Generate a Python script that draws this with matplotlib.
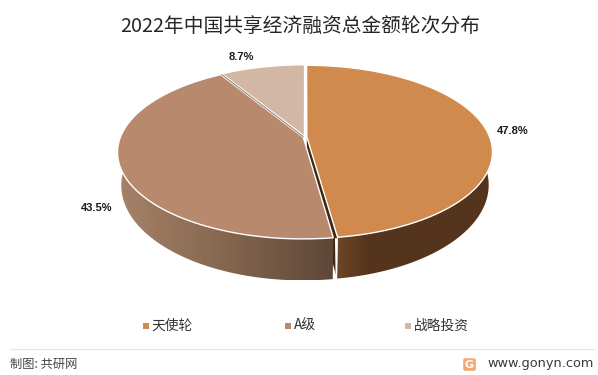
import numpy as np
import matplotlib
matplotlib.use("Agg")
import matplotlib.pyplot as plt
from matplotlib.patches import Polygon, FancyBboxPatch
from matplotlib.colors import LinearSegmentedColormap

plt.rcParams['font.family'] = ['Noto Sans CJK SC', 'DejaVu Sans']

title = "2022年中国共享经济融资总金额轮次分布"
categories = ["天使轮", "A级", "战略投资"]
values = [47.8, 43.5, 8.7]
labels = ["47.8%", "43.5%", "8.7%"]
top_colors = ["#D08A4E", "#B8896C", "#D3B7A5"]
side_colors = [["#6E4527", "#54341C", "#54341D"], ["#A58168", "#84664F", "#5E4737"]]
source = "制图: 共研网"
site = "www.gonyn.com"

W, H = 598, 375
fig = plt.figure(figsize=(W / 100, H / 100), dpi=100, facecolor="white")
ax = fig.add_axes([0, 0, 1, 1])

# perspective disc projection
K = 0.1724
CX, CY, A, B = 305.0, 137.0, 182.8, 84.0
CYB, SXB, SYB = 168.5, 0.98, 1.098
EXPL = 0.010


def project(u, v, bottom=False):
    w = 1 + K * np.asarray(v)
    sx, sy, cy = (SXB, SYB, CYB) if bottom else (1.0, 1.0, CY)
    return CX + sx * A * np.asarray(u) / w, cy - sy * B * np.asarray(v) / w


fracs = np.array(values) / sum(values) * 2 * np.pi
ends = np.cumsum(fracs)
starts = ends - fracs
geom = []
for s, e in zip(starts, ends):
    mid = (s + e) / 2
    off = (EXPL * np.sin(mid), EXPL * np.cos(mid))
    geom.append((np.linspace(s, e, 200), off))


def rim(th, off, bottom=False):
    return project(np.sin(th) + off[0], np.cos(th) + off[1], bottom)


def draw_sides(i, z):
    th, off = geom[i]
    keep = np.cos(th) < 0.25
    xt, yt = rim(th[keep], off)
    xb, yb = rim(th[keep], off, True)
    pts = np.column_stack([np.r_[xt, xb[::-1]], np.r_[yt, yb[::-1]]])
    clip = Polygon(pts, closed=True, transform=ax.transData, facecolor="none", edgecolor="none")
    ax.add_patch(clip)
    cmap = LinearSegmentedColormap.from_list(f"side{i}", side_colors[i])
    xmin, xmax = (337, 400) if i == 0 else (120, 333)
    grad = np.clip((np.linspace(pts[:, 0].min(), pts[:, 0].max(), 300) - xmin) / (xmax - xmin), 0, 1)[None, :]
    im = ax.imshow(grad, cmap=cmap, vmin=0, vmax=1, aspect="auto", interpolation="bilinear",
                   extent=(pts[:, 0].min(), pts[:, 0].max(), pts[:, 1].max(), pts[:, 1].min()), zorder=z)
    im.set_clip_path(clip)


def draw_top(i, z):
    th, off = geom[i]
    xt, yt = rim(th, off)
    ax_, ay_ = project(off[0], off[1])
    ax.add_patch(Polygon(np.column_stack([np.r_[ax_, xt], np.r_[ay_, yt]]), closed=True,
                         facecolor=top_colors[i], edgecolor="white", linewidth=1.0, zorder=z))


# the orange slice with its cut face, the light slice, then the tan one
draw_sides(0, 2)
th0, off0 = geom[0]
x1, y1 = project(off0[0], off0[1])
x2, y2 = rim(th0[-1:], off0)
xb1, yb1 = project(off0[0], off0[1], True)
xb2, yb2 = rim(th0[-1:], off0, True)
ax.add_patch(Polygon([(x1, y1), (x2[0], y2[0]), (xb2[0], yb2[0]), (xb1, yb1)], closed=True,
                     facecolor="#3F2813", edgecolor="none", zorder=3))
draw_top(2, 4)
draw_top(0, 5)
draw_sides(1, 6)
draw_top(1, 7)

# white seam down the side at the orange / tan boundary
xs, ys = rim(th0[-1:], off0)
xe, ye = rim(th0[-1:], off0, True)
ax.add_patch(Polygon([(xs[0] - 2.6, ys[0] + 1), (xs[0] + 0.4, ys[0] + 1), (xe[0] + 0.2, ye[0] + 1), (xe[0] - 1.3, ye[0] + 1)],
                     closed=True, facecolor="white", edgecolor="none", zorder=9))

# grey seam at the tan / light boundary
th2, off2 = geom[2]
sx, sy = project(off2[0], off2[1])
rx_, ry_ = rim(th2[:1], off2)
ax.plot([sx - 1, rx_[0] - 0.5], [sy + 0.6, ry_[0] + 0.5], color="#9A8676", lw=0.8, zorder=8, solid_capstyle="butt")

# value labels
label_pos = [(513, 131), (97, 208), (241, 57)]
for lab, (lx, ly) in zip(labels, label_pos):
    ax.text(lx, ly, lab, ha="center", va="center", fontsize=8, fontweight="bold",
            fontfamily="Liberation Sans", color="#1a1a1a", zorder=10)

ax.text(300, 26, title, ha="center", va="center", fontsize=14.2, color="#262626")

# legend
legend_x = [(145.5, 151), (288, 294), (408, 414)]
for cat, col, (mx, tx) in zip(categories, top_colors, legend_x):
    ax.scatter([mx], [326], marker="s", s=22, color=col, linewidths=0, zorder=5)
    ax.text(tx, 326, cat, ha="left", va="center", fontsize=9.9, color="#333333")

# footer
ax.plot([10, 594], [348.5, 348.5], color="#E6E6E6", lw=1)
ax.text(10, 364, source, ha="left", va="center", fontsize=8.8, color="#444444")
ax.add_patch(FancyBboxPatch((464, 359), 11, 11, boxstyle="round,pad=0.8,rounding_size=2",
                            facecolor="#F4A871", edgecolor="none"))
ax.text(469.5, 364.5, "G", ha="center", va="center", fontsize=8, fontweight="bold", color="white",
        fontfamily="DejaVu Sans")
ax.text(487, 363.5, site, ha="left", va="center", fontsize=9.3, color="#3a3a3a", fontfamily="DejaVu Sans")

ax.set_xlim(0, W)
ax.set_ylim(H, 0)
ax.axis("off")
fig.savefig("out.png", dpi=100, facecolor="white")
